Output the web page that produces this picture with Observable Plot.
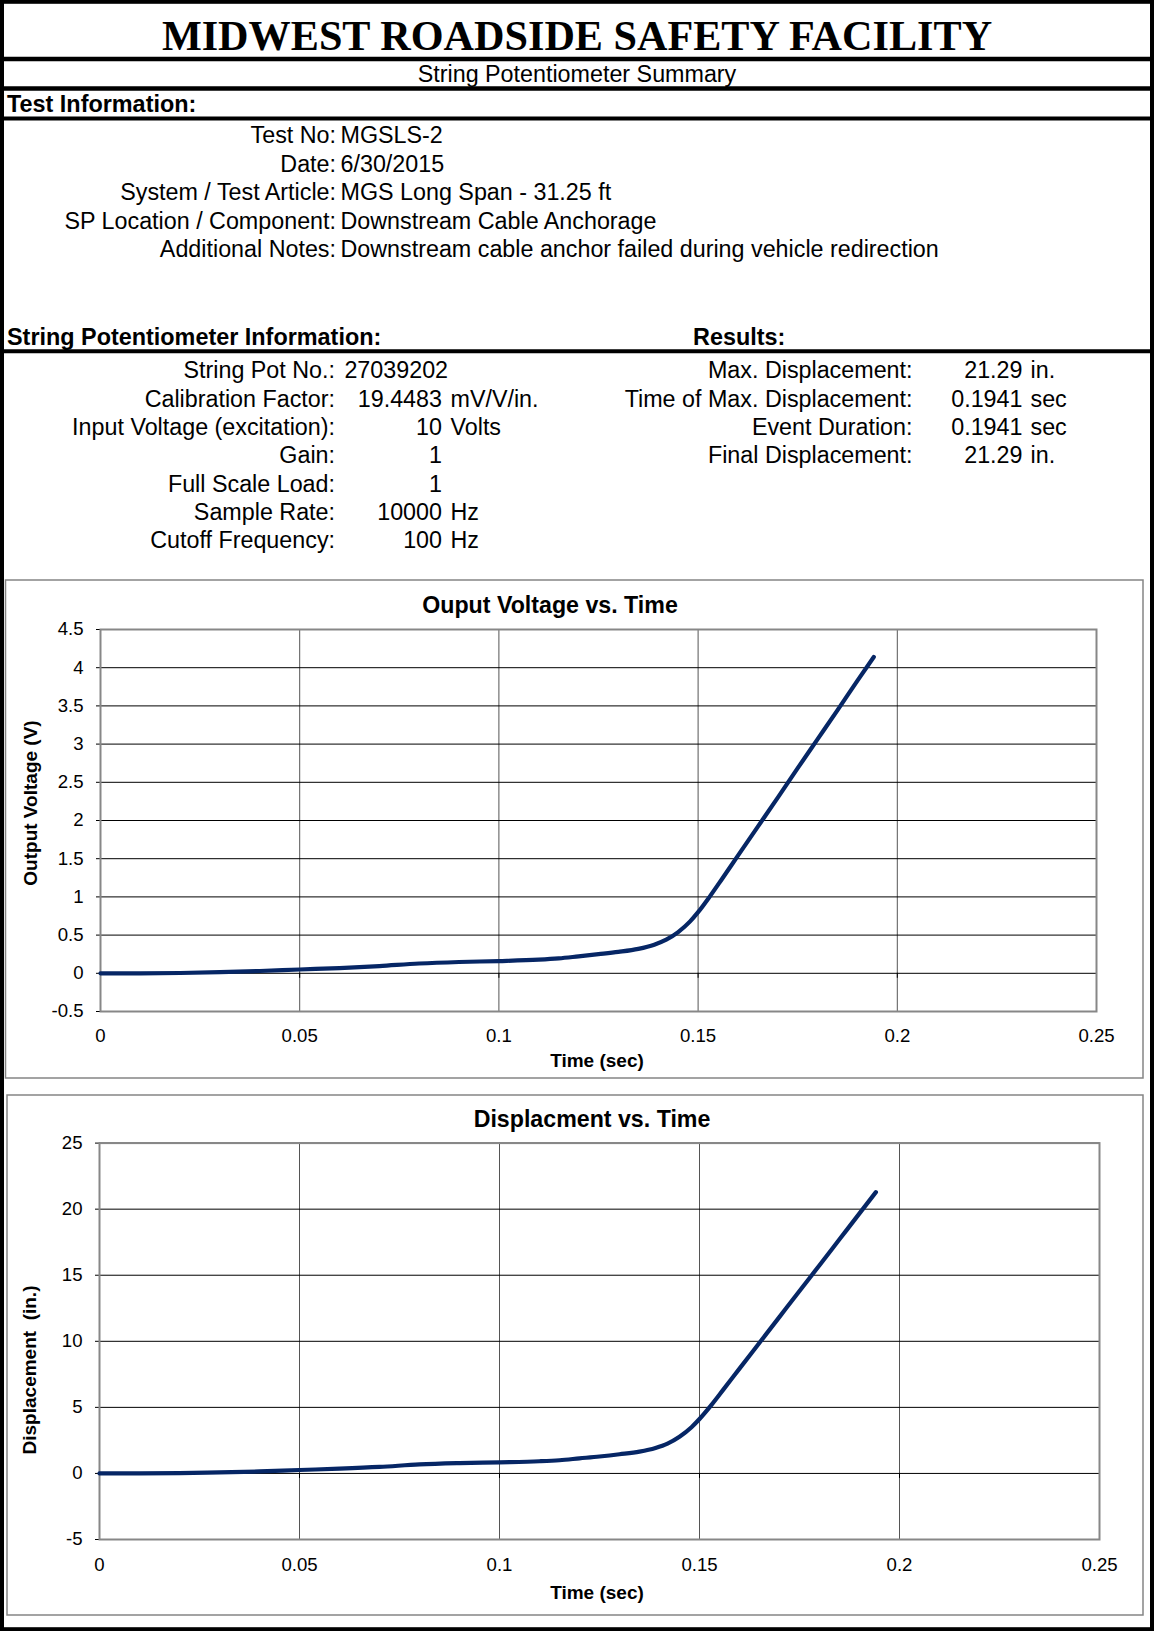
<!DOCTYPE html>
<html><head><meta charset="utf-8">
<script src="https://cdn.jsdelivr.net/npm/d3@7"></script>
<script src="https://cdn.jsdelivr.net/npm/@observablehq/plot@0.6"></script>
<style>
body{margin:0;background:#fff;}
#page{position:relative;width:1154px;height:1631px;overflow:hidden;background:#fff;}
#page > svg{position:absolute;}
</style></head><body><div id="page"></div>
<script>
// ---------- data ----------
const pageTitle = "MIDWEST ROADSIDE SAFETY FACILITY";
const pageSubtitle = "String Potentiometer Summary";

const testLabels = ["Test No:", "Date:", "System / Test Article:", "SP Location / Component:", "Additional Notes:"];
const testValues = ["MGSLS-2", "6/30/2015", "MGS Long Span - 31.25 ft", "Downstream Cable Anchorage", "Downstream cable anchor failed during vehicle redirection"];

const spLabels = ["String Pot No.:", "Calibration Factor:", "Input Voltage (excitation):", "Gain:", "Full Scale Load:", "Sample Rate:", "Cutoff Frequency:"];
const spValues = ["27039202", "19.4483", "10", "1", "1", "10000", "100"];
const spUnits  = ["", "mV/V/in.", "Volts", "", "", "Hz", "Hz"];

const resLabels = ["Max. Displacement:", "Time of Max. Displacement:", "Event Duration:", "Final Displacement:"];
const resValues = ["21.29", "0.1941", "0.1941", "21.29"];
const resUnits  = ["in.", "sec", "sec", "in."];

const xTicks = [0, 0.05, 0.1, 0.15, 0.2, 0.25];
const vTicks = [-0.5, 0, 0.5, 1, 1.5, 2, 2.5, 3, 3.5, 4, 4.5];
const dTicks = [-5, 0, 5, 10, 15, 20, 25];

const timeSec = [0, 0.01, 0.02, 0.03, 0.04, 0.05, 0.06, 0.07, 0.08, 0.09, 0.1, 0.11, 0.115, 0.12, 0.125, 0.13, 0.135, 0.139, 0.142, 0.145, 0.148, 0.15, 0.153, 0.156, 0.16, 0.165, 0.17, 0.175, 0.18, 0.185, 0.19, 0.1941];
const voltage = [0, 0, 0.004, 0.015, 0.03, 0.05, 0.068, 0.095, 0.128, 0.148, 0.16, 0.178, 0.195, 0.222, 0.25, 0.28, 0.32, 0.375, 0.44, 0.54, 0.68, 0.8, 1.01, 1.235, 1.54, 1.92, 2.3, 2.685, 3.065, 3.445, 3.83, 4.14];
const displacement = [0, 0, 0.02, 0.08, 0.15, 0.26, 0.36, 0.49, 0.68, 0.78, 0.84, 0.92, 1.0, 1.14, 1.28, 1.45, 1.65, 1.93, 2.26, 2.78, 3.5, 4.12, 5.19, 6.36, 7.93, 9.89, 11.85, 13.81, 15.76, 17.72, 19.68, 21.29];

// ---------- layout ----------
const page = document.getElementById("page");
const SANS = "'Liberation Sans', Arial, Helvetica, sans-serif";
const SERIF = "'Liberation Serif', 'Times New Roman', serif";
const LINE = "#062665";

function chart(cfg) {
  const data = timeSec.map((t, i) => ({t, v: cfg.values[i]}));
  const yt = cfg.yTicks;
  const p = Plot.plot({
    width: cfg.width, height: cfg.height,
    marginLeft: cfg.mL, marginRight: cfg.mR, marginTop: cfg.mT, marginBottom: cfg.mB,
    style: {fontFamily: SANS, fontSize: "18.6px", color: "#000", background: "transparent", overflow: "visible"},
    x: {domain: [xTicks[0], xTicks[xTicks.length - 1]], ticks: xTicks, tickFormat: d => String(d), tickSize: 0, tickPadding: cfg.xPad, label: null},
    y: {domain: [yt[0], yt[yt.length - 1]], ticks: yt, tickFormat: d => String(d), tickSize: 4, tickPadding: 13, label: null},
    marks: [
      Plot.ruleX(xTicks, {stroke: "#555", strokeWidth: 1}),
      Plot.ruleY(yt, {stroke: "#000", strokeWidth: 1}),
      Plot.ruleX(xTicks, {y1: 0, y2: 0, insetBottom: -5, stroke: "#000", strokeWidth: 1}),
      Plot.frame({stroke: "#878787", strokeWidth: 2}),
      Plot.line(data, {x: "t", y: "v", stroke: LINE, strokeWidth: 4.2, curve: "monotone-x", strokeLinecap: "round"})
    ]
  });
  p.style.left = cfg.left + "px";
  p.style.top = cfg.top + "px";
  page.appendChild(p);
}

chart({values: voltage, yTicks: vTicks, left: 0, top: 580, width: 1150, height: 498, mL: 100, mR: 54, mT: 49, mB: 67, xPad: 16.8});
chart({values: displacement, yTicks: dTicks, left: 0, top: 1095, width: 1150, height: 520, mL: 99, mR: 51, mT: 47.6, mB: 76, xPad: 18.2});

// overlay for the sheet frame and text
const svg = d3.select(page).append("svg")
  .attr("width", 1154).attr("height", 1631)
  .style("left", "0px").style("top", "0px");

function txt(s, x, y, o = {}) {
  const size = o.size ?? 23.3, sx = o.sx ?? 1, rot = o.rot ?? 0;
  svg.append("text")
    .attr("transform", `translate(${x},${y}) rotate(${rot}) scale(${sx},1)`)
    .attr("text-anchor", o.anchor ?? "start")
    .attr("font-size", size)
    .attr("font-weight", o.weight ?? "normal")
    .attr("font-family", o.family ?? SANS)
    .attr("fill", "#000")
    .text(s);
}
function hline(y, w) {
  svg.append("line").attr("x1", 0).attr("x2", 1154).attr("y1", y).attr("y2", y)
    .attr("stroke", "#000").attr("stroke-width", w);
}

// outer border and horizontal rules
svg.append("rect").attr("x", 2).attr("y", 1.8).attr("width", 1150).attr("height", 1627.4)
  .attr("fill", "none").attr("stroke", "#000").attr("stroke-width", 4);
hline(59, 4.5);
hline(88.5, 4.5);
hline(118.5, 4);
hline(351.3, 4);

// chart boxes
svg.append("rect").attr("x", 5.5).attr("y", 580).attr("width", 1137.5).attr("height", 498)
  .attr("fill", "none").attr("stroke", "#858585").attr("stroke-width", 1.5);
svg.append("rect").attr("x", 7).attr("y", 1095).attr("width", 1136).attr("height", 520)
  .attr("fill", "none").attr("stroke", "#858585").attr("stroke-width", 1.5);

// header
txt(pageTitle, 577, 49.5, {size: 42.2, anchor: "middle", weight: "bold", family: SERIF});
txt(pageSubtitle, 577, 82, {anchor: "middle"});
txt("Test Information:", 7, 111.5, {size: 23.4, weight: "bold"});

// test info
const testBase = [143.3, 171.5, 200, 228.5, 257];
testLabels.forEach((l, i) => {
  txt(l, 336, testBase[i], {anchor: "end"});
  txt(testValues[i], 340.5, testBase[i]);
});

// section headers
txt("String Potentiometer Information:", 7, 345, {size: 23.4, weight: "bold"});
txt("Results:", 693, 345, {size: 23.4, weight: "bold"});

const spBase = [378, 406.5, 435, 463.3, 491.6, 520, 548.3];
spLabels.forEach((l, i) => {
  txt(l, 335, spBase[i], {anchor: "end"});
  if (i === 0) txt(spValues[i], 344.4, spBase[i]);
  else txt(spValues[i], 442, spBase[i], {anchor: "end"});
  if (spUnits[i]) txt(spUnits[i], 450.5, spBase[i]);
});
resLabels.forEach((l, i) => {
  txt(l, 912.5, spBase[i], {anchor: "end"});
  txt(resValues[i], 1022.5, spBase[i], {anchor: "end"});
  txt(resUnits[i], 1030.5, spBase[i]);
});

// chart titles and axis labels
txt("Ouput Voltage vs. Time", 550, 613, {size: 23.2, anchor: "middle", weight: "bold"});
txt("Time (sec)", 597, 1067, {size: 19, anchor: "middle", weight: "bold"});
txt("Output Voltage (V)", 37, 803, {size: 19, anchor: "middle", weight: "bold", rot: -90});

txt("Displacment vs. Time", 592, 1126.5, {size: 23.2, anchor: "middle", weight: "bold"});
txt("Time (sec)", 597, 1599, {size: 19, anchor: "middle", weight: "bold"});
txt("Displacement\u00a0\u00a0(in.)", 35.5, 1370, {size: 19, anchor: "middle", weight: "bold", rot: -90});
</script>
</body></html>
